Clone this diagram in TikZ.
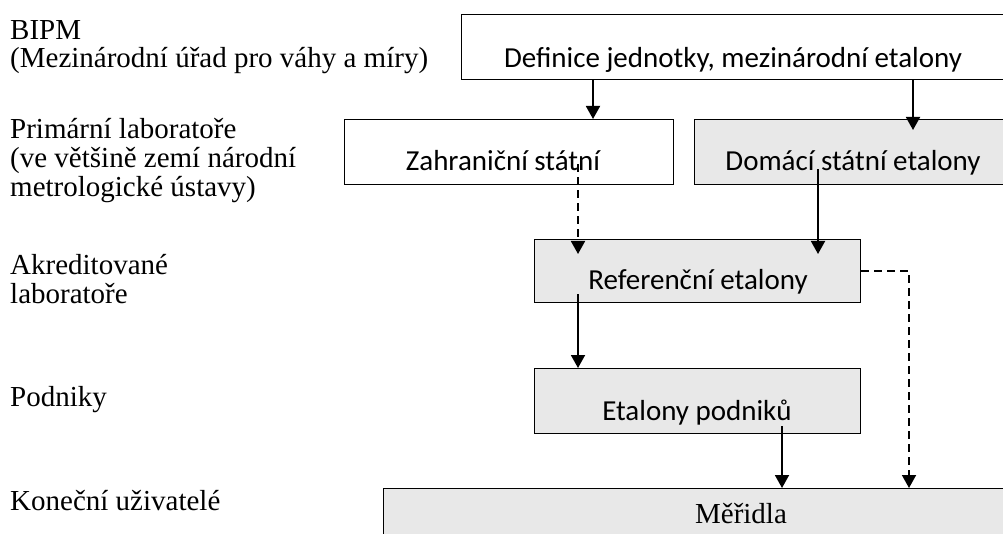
\documentclass[tikz,border=0pt]{standalone}
\usepackage{fontspec}
\setmainfont{Liberation Serif}
\newfontfamily\calfont{Carlito}
\usetikzlibrary{arrows.meta}
\begin{document}
\begin{tikzpicture}[x=1pt,y=-1pt,
  box/.style={draw=black, line width=1.3pt, inner sep=0pt, anchor=north west},
  wbox/.style={box, fill=white},
  gbox/.style={box, fill=black!9},
  sans/.style={font=\calfont\fontsize{29}{29}\selectfont, anchor=base, inner sep=0pt},
  serif/.style={font=\fontsize{29}{29}\selectfont, anchor=base, inner sep=0pt},
  lbl/.style={font=\fontsize{29}{29}\selectfont, anchor=base west, inner sep=0pt},
  arr/.style={line width=1.8pt, -{Triangle[width=14pt,length=13pt]}},
  darr/.style={arr, dash pattern=on 8pt off 5pt},
]
\clip (0,0) rectangle (1003,534);
\fill[white] (0,0) rectangle (1003,534);

% left column labels
\node[lbl] (l1a) at (10,40)  {BIPM};
\node[lbl] (l1b) at (10,68)  {(Mezinárodní úřad pro váhy a míry)};
\node[lbl] (l2a) at (10,139) {Primární laboratoře};
\node[lbl] (l2b) at (10,168) {(ve většině zemí národní};
\node[lbl] (l2c) at (10,197) {metrologické ústavy)};
\node[lbl] (l3a) at (10,275) {Akreditované};
\node[lbl] (l3b) at (10,304) {laboratoře};
\node[lbl] (l4)  at (10,406) {Podniky};
\node[lbl] (l5)  at (10,510) {Koneční uživatelé};

% boxes
\node[wbox, minimum width=545pt, minimum height=65pt] (top) at (461,14) {};
\node[wbox, minimum width=329pt, minimum height=65pt] (zah) at (344,119) {};
\node[gbox, minimum width=320pt, minimum height=65pt] (dom) at (694,119) {};
\node[gbox, minimum width=326pt, minimum height=63pt] (ref) at (534,239) {};
\node[gbox, minimum width=326pt, minimum height=65pt] (etp) at (534,368) {};
\node[gbox, minimum width=716pt, minimum height=80pt] (mer) at (383,488) {};

% box texts
\node[sans] (t1) at (733,68)  {Definice jednotky, mezinárodní etalony};
\node[sans] (t2) at (503,171) {Zahraniční státní};
\node[sans] (t3) at (853,171) {Domácí státní etalony};
\node[sans] (t4) at (698,290) {Referenční etalony};
\node[sans] (t5) at (697,420) {Etalony podniků};
\node[serif] (t6) at (741,523) {Měřidla};

% connector x positions
\coordinate (xa) at (593,0);
\coordinate (xb) at (913,0);
\coordinate (xc) at (578,0);
\coordinate (xd) at (818,0);
\coordinate (xe) at (782,0);
\coordinate (xf) at (909,0);

\path (dom.north -| xb) ++(0,11) coordinate (b2);
\path (zah.south -| xc) ++(0,-21) coordinate (c1);
\path (ref.north -| xc) ++(0,15) coordinate (c2);
\path (dom.south -| xd) ++(0,-16) coordinate (d1);
\path (ref.north -| xd) ++(0,15) coordinate (d2);
\path (ref.south -| xc) ++(0,-9) coordinate (e1);
\path (etp.south -| xe) ++(0,-8) coordinate (f1);

% connectors
\draw[arr] (top.south -| xa) -- (zah.north -| xa);
\draw[arr] (top.south -| xb) -- (b2);
\draw[darr] (c1) -- (c2);
\draw[arr] (d1) -- (d2);
\draw[arr] (e1) -- (etp.north -| xc);
\draw[arr] (f1) -- (mer.north -| xe);
\draw[darr] (ref.east) -| (mer.north -| xf);
\end{tikzpicture}
\end{document}
